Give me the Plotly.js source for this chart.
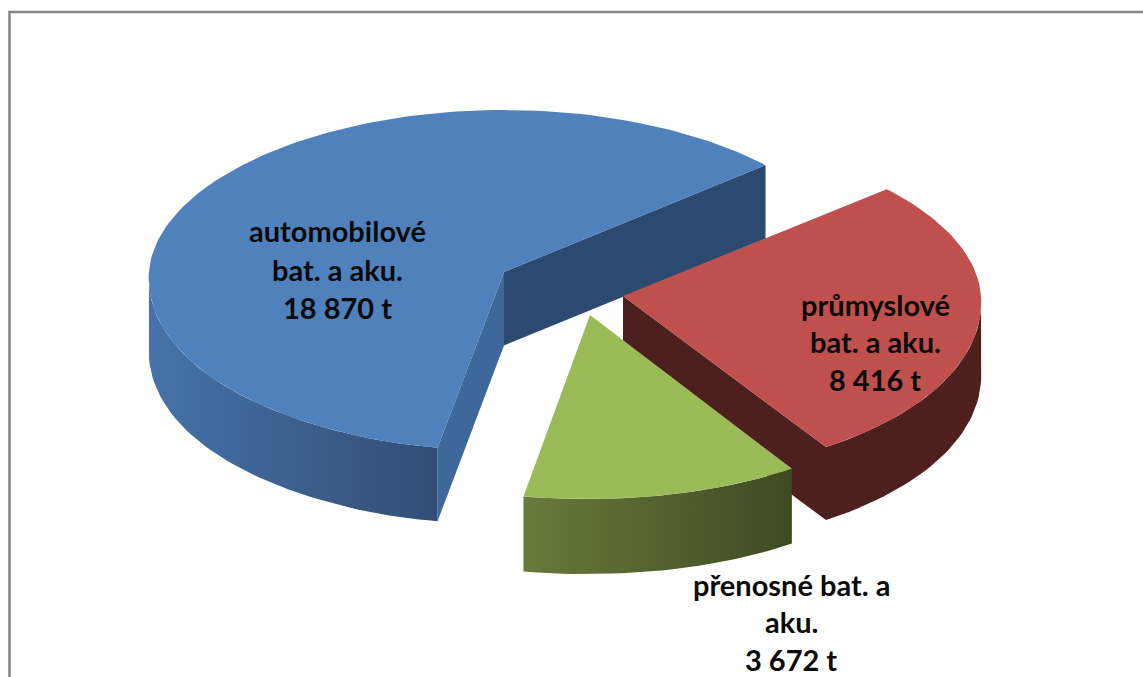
<!DOCTYPE html>
<html>
<head>
<meta charset="utf-8">
<script src="https://cdn.plot.ly/plotly-3.0.1.min.js"></script>
<style>html,body{margin:0;padding:0;background:#fff;overflow:hidden}</style>
</head>
<body>
<div id="chart" style="width:1143px;height:677px"></div>
<script>
// data
const categories = ['automobilové bat. a aku.', 'průmyslové bat. a aku.', 'přenosné bat. a aku.'];
const values = [18870, 8416, 3672];
const unit = 't';
const labelLines = [['automobilové', 'bat. a aku.'], ['průmyslové', 'bat. a aku.'], ['přenosné bat. a', 'aku.']];

// style
const topColors = ['#4F81BD', '#C0504D', '#9BBB59'];
const wallGradient = [['#4673a9', '#314d75'], ['#4d1f1f', '#4d1f1f'], ['#677b3b', '#3e4a21']];
const cutColors = [['#3d6899', '#2c4970'], ['#4d1f1f', '#4d1f1f'], ['#4d5c2d', '#3e4a21']];

// geometry of the exploded, tilted disc
const startAngle = 260.7, radiusUp = 162;
const radiusX = [355, 358, 356], radiusDown = [178, 181, 184];
const slicePull = [[504, 272], [623, 296], [590, 315]];
const depth = [73.5, 73, 75];
const labelAt = [[337, 230.5, 38.5], [875, 304, 37.5], [791, 584, 37.5]];

const total = values.reduce((a, b) => a + b, 0);
function rim(i, deg, dy) {
  const c = slicePull[i], r = deg * Math.PI / 180, s = Math.sin(r);
  // perspective: the far side of the disc looks narrower, the near side wider
  let dx = radiusX[i] * Math.cos(r) * (s > 0 ? 1 - 0.03 * s : 1 - 0.036 * s);
  const norm = ((deg % 360) + 360) % 360;
  dx -= 7 * Math.exp(-Math.pow((norm - 260) / 15, 2));
  return [c[0] + dx, c[1] - s * (s > 0 ? radiusUp : radiusDown[i]) + dy];
}
function arc(i, from, to, dy) {
  const n = Math.max(2, Math.ceil(Math.abs(to - from) / 1.5)), pts = [];
  for (let k = 0; k <= n; k++) pts.push(rim(i, from + (to - from) * k / n, dy));
  return pts;
}
function face(pts, name, color, grad) {
  const t = {
    type: 'scatter', mode: 'lines', name: name, hoverinfo: 'skip', showlegend: false,
    x: pts.map(p => p[0]).concat(pts[0][0]), y: pts.map(p => p[1]).concat(pts[0][1]),
    fill: 'toself', line: {width: 0, color: color}, fillcolor: color
  };
  if (grad) t.fillgradient = {type: 'horizontal', colorscale: [[0, grad[0]], [1, grad[1]]]};
  return t;
}

const traces = [], annotations = [];
let a = startAngle;
values.forEach((v, i) => {
  const sweep = v / total * 360, from = a, to = a - sweep, c = slicePull[i], d = depth[i];
  const base = [c[0], c[1] + d];
  // walls
  const wallFrom = i === 1 ? 0 : from, wallTo = i === 0 ? 180 : to;
  const wallTop = arc(i, wallFrom, wallTo, 0);
  const wallBottom = arc(i, wallTo, wallFrom, d);
  traces.push(face(wallTop.concat(wallBottom), categories[i] + ' plášť', wallGradient[i][1], wallGradient[i]));
  // cut faces
  if (i === 0) {
    traces.push(face([c, rim(i, from, 0), rim(i, from, d), base], categories[i] + ' řez', cutColors[i][0]));
    traces.push(face([c, rim(i, to, 0), rim(i, to, d), base], categories[i] + ' řez', cutColors[i][1]));
  } else if (i === 1) {
    traces.push(face([c, rim(i, to, 0), rim(i, to, d), base], categories[i] + ' řez', cutColors[i][0]));
  }
  // top
  traces.push(face([c].concat(arc(i, from, to, 0)), categories[i], topColors[i]));
  // labels
  const num = String(v).replace(/\B(?=(\d{3})+$)/g, ' ') + ' ' + unit;
  labelLines[i].concat(num).forEach((line, k) => {
    annotations.push({
      x: labelAt[i][0], y: labelAt[i][1] + k * labelAt[i][2], xref: 'x', yref: 'y',
      text: line, showarrow: false, xanchor: 'center', yanchor: 'middle',
      font: {family: 'Lato, "Open Sans", sans-serif', size: 29, color: '#0a0a0a', weight: 700}
    });
  });
  a = to;
});

const layout = {
  width: 1143, height: 677, margin: {l: 0, r: 0, t: 0, b: 0},
  paper_bgcolor: '#fff', plot_bgcolor: '#fff', showlegend: false,
  xaxis: {range: [0, 1143], visible: false, fixedrange: true},
  yaxis: {range: [677, 0], visible: false, fixedrange: true},
  annotations: annotations,
  shapes: [{type: 'path', xref: 'x', yref: 'y', path: 'M 9.5 677 L 9.5 12 L 1143 12',
            line: {color: '#868686', width: 2.5}, layer: 'below'}]
};
Plotly.newPlot('chart', traces, layout, {displayModeBar: false, staticPlot: true});
</script>
</body>
</html>
